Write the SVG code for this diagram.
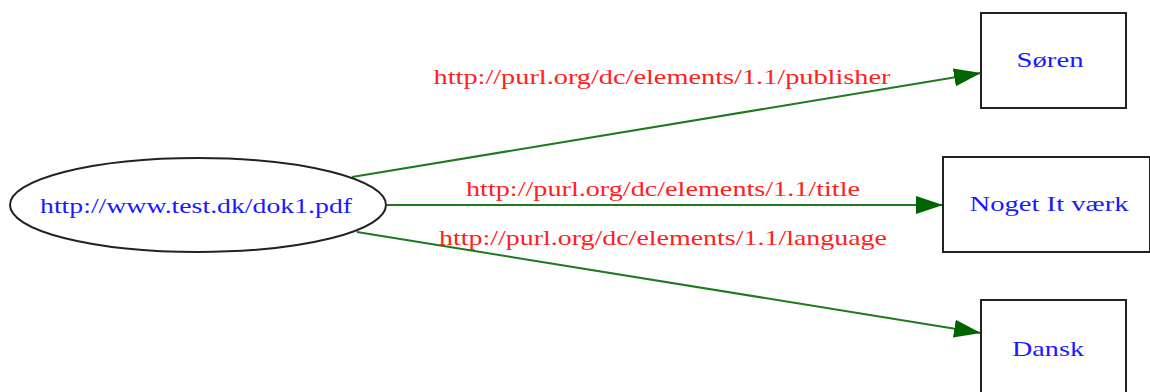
<svg xmlns="http://www.w3.org/2000/svg" width="1150" height="392" viewBox="0 0 1150 392">
<style>
.node{fill:#fff;stroke:#222;stroke-width:2}
.nt{font-family:"Liberation Serif","DejaVu Serif",serif;font-size:21px;fill:#1a1aff;text-anchor:middle}
.et{font-family:"Liberation Serif","DejaVu Serif",serif;font-size:21px;fill:#ff2020;text-anchor:middle}
.edge{stroke:#1f7a1f;stroke-width:2;fill:none}
</style>
<defs>
<marker id="ah" markerUnits="userSpaceOnUse" markerWidth="28" markerHeight="18" refX="27" refY="9" orient="auto">
<path d="M0,0 L27,9 L0,18 Z" fill="#006400"/>
</marker>
</defs>
<rect width="1150" height="392" fill="#fff"/>
<g id="edges">
<line class="edge" x1="352" y1="177" x2="981" y2="73" marker-end="url(#ah)"/>
<line class="edge" x1="387" y1="205" x2="943" y2="205" marker-end="url(#ah)"/>
<line class="edge" x1="357" y1="232" x2="981" y2="333" marker-end="url(#ah)"/>
<text class="et" x="662" y="84" textLength="457" lengthAdjust="spacingAndGlyphs">http://purl.org/dc/elements/1.1/publisher</text>
<text class="et" x="663" y="196" textLength="394" lengthAdjust="spacingAndGlyphs">http://purl.org/dc/elements/1.1/title</text>
<text class="et" x="663" y="245" textLength="448" lengthAdjust="spacingAndGlyphs">http://purl.org/dc/elements/1.1/language</text>
</g>
<g id="node-doc">
<ellipse class="node" cx="198" cy="205" rx="188" ry="47"/>
<text class="nt" x="196" y="213" textLength="312" lengthAdjust="spacingAndGlyphs">http://www.test.dk/dok1.pdf</text>
</g>
<g id="node-soren">
<rect class="node" x="981" y="13" width="145" height="95"/>
<text class="nt" x="1050" y="67" textLength="67" lengthAdjust="spacingAndGlyphs">Søren</text>
</g>
<g id="node-noget">
<rect class="node" x="943" y="157" width="207" height="95"/>
<text class="nt" x="1049" y="211" textLength="159" lengthAdjust="spacingAndGlyphs">Noget It værk</text>
</g>
<g id="node-dansk">
<rect class="node" x="981" y="300" width="145" height="100"/>
<text class="nt" x="1048" y="356" textLength="72" lengthAdjust="spacingAndGlyphs">Dansk</text>
</g>
</svg>
